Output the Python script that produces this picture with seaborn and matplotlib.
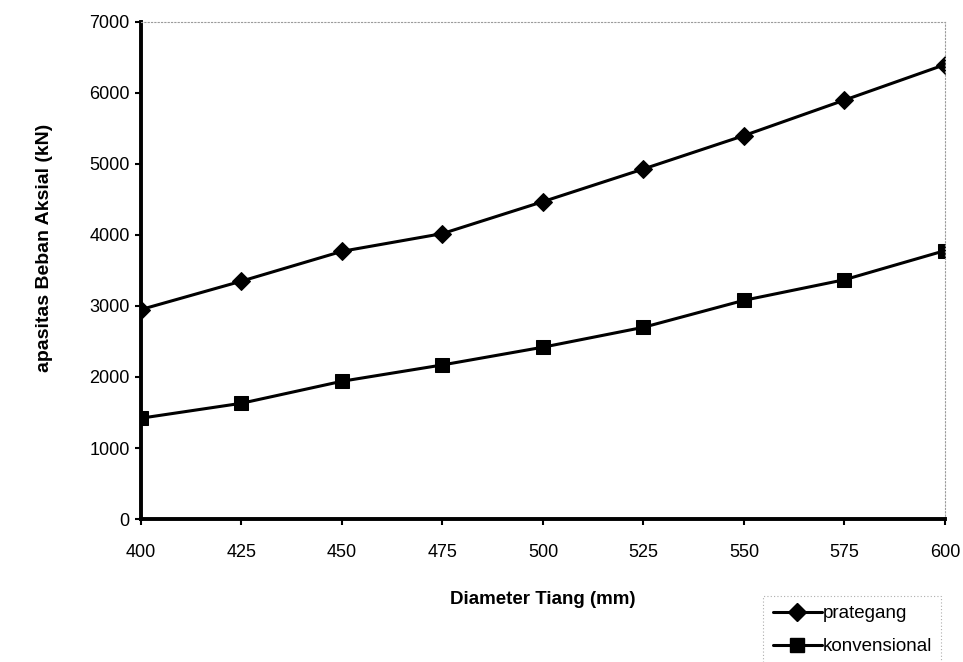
import matplotlib
matplotlib.use("Agg")
import matplotlib.pyplot as plt
import seaborn as sns
import pandas as pd
from matplotlib.lines import Line2D

diameter = [400, 425, 450, 475, 500, 525, 550, 575, 600]
prategang = [2950, 3350, 3770, 4020, 4470, 4930, 5400, 5900, 6400]
konvensional = [1420, 1630, 1940, 2170, 2420, 2700, 3080, 3370, 3780]
series_names = ["prategang", "konvensional"]
y_ticks = [0, 1000, 2000, 3000, 4000, 5000, 6000, 7000]

df = pd.DataFrame({
    "Diameter": diameter * 2,
    "Kapasitas": prategang + konvensional,
    "Jenis": [series_names[0]] * len(diameter) + [series_names[1]] * len(diameter),
})

sns.set_theme(style="white")
plt.rcParams["font.family"] = ["Liberation Sans", "DejaVu Sans"]
plt.rcParams["text.color"] = "black"
plt.rcParams["axes.labelcolor"] = "black"
plt.rcParams["xtick.color"] = "black"
plt.rcParams["ytick.color"] = "black"

fig = plt.figure(figsize=(9.63, 6.62), dpi=100)
ax = fig.add_axes([0.1464, 0.216, 0.8349, 0.7508])

marker_map = {"prategang": "D", "konvensional": "s"}
sns.lineplot(
    data=df, x="Diameter", y="Kapasitas", hue="Jenis", style="Jenis",
    markers=marker_map, dashes=False,
    palette={"prategang": "black", "konvensional": "black"},
    linewidth=2.2, markersize=10, markeredgecolor="black", ax=ax, legend=False,
)
for line in ax.get_lines():
    if line.get_marker() == "D":
        line.set_markersize(9.5)

ax.set_xlim(400, 600)
ax.set_ylim(0, 7000)
ax.set_xticks(diameter)
ax.set_yticks(y_ticks)
ax.tick_params(axis="both", which="both", direction="out", length=4, width=1.5,
               color="black", labelcolor="black", labelsize=13,
               bottom=True, left=True)
ax.tick_params(axis="x", pad=14)
ax.tick_params(axis="y", pad=4)

for side in ["left", "bottom"]:
    ax.spines[side].set_color("black")
    ax.spines[side].set_linewidth(2.8)
for side in ["top", "right"]:
    ax.spines[side].set_color("#9a9a9a")
    ax.spines[side].set_linewidth(0.8)
    ax.spines[side].set_linestyle((0, (1, 2)))

ax.set_xlabel("Diameter Tiang (mm)", fontsize=13.5, fontweight="bold")
ax.xaxis.set_label_coords(0.5, -0.145)
ax.set_ylabel("apasitas Beban Aksial (kN)", fontsize=14, fontweight="bold")
ax.yaxis.set_label_coords(-0.11, 0.545)

handles = [
    Line2D([], [], color="black", lw=2.2, marker="D", markersize=9.5),
    Line2D([], [], color="black", lw=2.2, marker="s", markersize=10),
]
leg = fig.legend(handles, series_names, loc="lower left",
                 bbox_to_anchor=(0.783, -0.018), frameon=True, fontsize=13.5,
                 handlelength=2.6, handletextpad=0.05, borderpad=0.5,
                 labelspacing=0.85, fancybox=False)
leg.get_frame().set_edgecolor("#9a9a9a")
leg.get_frame().set_linestyle((0, (1, 2)))
leg.get_frame().set_linewidth(0.8)

fig.savefig("out.png", dpi=100)
